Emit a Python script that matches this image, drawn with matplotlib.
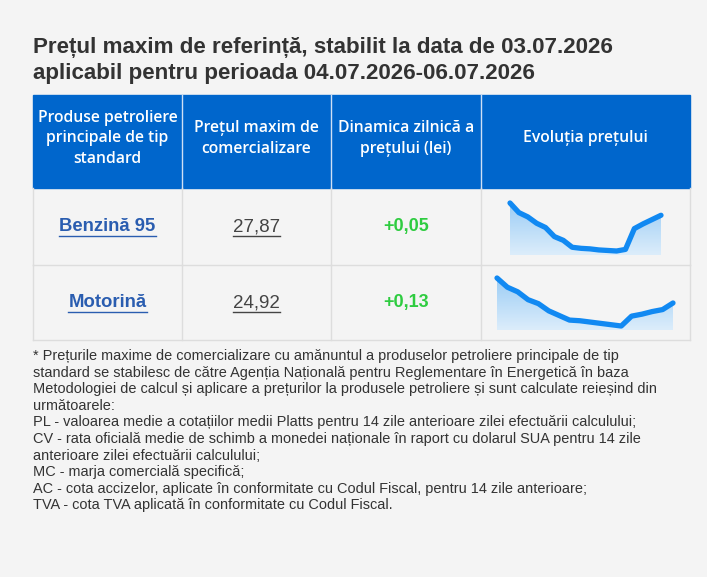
import matplotlib
matplotlib.use("Agg")
import matplotlib.pyplot as plt
import numpy as np
from matplotlib.patches import Rectangle, Polygon
from matplotlib.colors import LinearSegmentedColormap

title_lines = ["Prețul maxim de referință, stabilit la data de 03.07.2026",
               "aplicabil pentru perioada 04.07.2026-06.07.2026"]
headers = ["Produse petroliere\nprincipale de tip\nstandard", "Prețul maxim de\ncomercializare",
           "Dinamica zilnică a\nprețului (lei)", "Evoluția prețului"]
products = ["Benzină 95", "Motorină"]
prices = ["27,87", "24,92"]
changes = ["+0,05", "+0,13"]
series_benzina = [28.10, 27.92, 27.84, 27.72, 27.64, 27.47, 27.40, 27.27, 27.25, 27.24, 27.22, 27.21, 27.20, 27.23, 27.62, 27.71, 27.79, 27.87]
series_motorina = [25.30, 25.16, 25.09, 24.97, 24.91, 24.80, 24.73, 24.66, 24.65, 24.63, 24.61, 24.59, 24.57, 24.72, 24.75, 24.79, 24.82, 24.92]
notes = ["* Prețurile maxime de comercializare cu amănuntul a produselor petroliere principale de tip",
         "standard se stabilesc de către Agenția Națională pentru Reglementare în Energetică în baza",
         "Metodologiei de calcul și aplicare a prețurilor la produsele petroliere și sunt calculate reieșind din",
         "următoarele:",
         "PL - valoarea medie a cotațiilor medii Platts pentru 14 zile anterioare zilei efectuării calculului;",
         "CV - rata oficială medie de schimb a monedei naționale în raport cu dolarul SUA pentru 14 zile",
         "anterioare zilei efectuării calculului;",
         "MC - marja comercială specifică;",
         "AC - cota accizelor, aplicate în conformitate cu Codul Fiscal, pentru 14 zile anterioare;",
         "TVA - cota TVA aplicată în conformitate cu Codul Fiscal."]

W, H = 707, 577
fig = plt.figure(figsize=(W/100, H/100), dpi=100)
fig.patch.set_facecolor("#f4f4f4")
ax = fig.add_axes([0, 0, 1, 1])
ax.set_xlim(0, W); ax.set_ylim(H, 0); ax.axis("off")

for i, t in enumerate(title_lines):
    ax.text(33, 47 + 26*i, t, fontsize=16.1, fontweight="bold", color="#333333",
            family="Liberation Sans", va="center")

cols = [33, 182, 331, 481, 690]
hy0, hy1 = 95, 188
rows = [(188, 265), (265, 340)]
ax.add_patch(Rectangle((cols[0], hy0), cols[-1]-cols[0], hy1-hy0, color="#0066cc", zorder=1))
for c in cols[1:-1]:
    ax.plot([c, c], [hy0, hy1], color="#cfe0f5", lw=1, zorder=2)
for i, h in enumerate(headers):
    ax.text((cols[i]+cols[i+1])/2, (hy0+hy1)/2 - 3, h, fontsize=11.3, fontweight="semibold", color="white",
            family="Open Sans", ha="center", va="center", linespacing=1.4)
for (y0, y1) in rows:
    ax.plot([cols[0], cols[-1]], [y1, y1], color="#dddddd", lw=1)
    for c in cols:
        ax.plot([c, c], [y0, y1], color="#dddddd", lw=1)

fig.canvas.draw()
r = fig.canvas.get_renderer()
inv = ax.transData.inverted()
def underlined(x, y, s, **kw):
    t = ax.text(x, y, s, ha="center", va="center", **kw)
    bb = t.get_window_extent(r)
    (x0, yb), (x1_, _) = inv.transform([[bb.x0, bb.y0], [bb.x1, bb.y1]])
    ax.plot([x0, x1_], [yb+1, yb+1], color=kw.get("color"), lw=1)

series = [series_benzina, series_motorina]
boxes = [(510, 661, 203, 255), (497, 673, 278, 330)]
cm = LinearSegmentedColormap.from_list("g", ["#9ccdf5", "#dcedfb"])
for i, (y0, y1) in enumerate(rows):
    yc = (y0+y1)/2
    underlined((cols[0]+cols[1])/2, yc, products[i], fontsize=13.3, fontweight="bold", color="#2a5db0", family="Liberation Sans")
    underlined((cols[1]+cols[2])/2, yc, prices[i], fontsize=13.5, color="#444444", family="Liberation Sans")
    ax.text((cols[2]+cols[3])/2, yc, changes[i], fontsize=13, fontweight="bold", color="#2ecc40",
            family="Liberation Sans", ha="center", va="center")
    s = np.array(series[i]); bx0, bx1, by0, by1 = boxes[i]
    xs = np.linspace(bx0, bx1, len(s))
    ys = by0 + (s.max()-s)/(s.max()-s.min())*(by1-by0-4)
    poly = Polygon(np.column_stack([np.r_[xs, bx1, bx0], np.r_[ys, by1, by1]]), closed=True,
                   facecolor="none", edgecolor="none")
    ax.add_patch(poly)
    grad = np.linspace(0, 1, 100)[:, None]
    im = ax.imshow(grad, cmap=cm, extent=[bx0, bx1, by1, by0], aspect="auto", zorder=2)
    im.set_clip_path(poly)
    ax.plot(xs, ys, color="#1189f2", lw=3.8, solid_capstyle="round", solid_joinstyle="round", zorder=3)
ax.set_xlim(0, W); ax.set_ylim(H, 0)

for i, line in enumerate(notes):
    ax.text(33, 356 + 16.6*i, line, fontsize=10.45, color="#333333", family="Liberation Sans", va="center")

fig.savefig("out.png", dpi=100, facecolor=fig.get_facecolor())
